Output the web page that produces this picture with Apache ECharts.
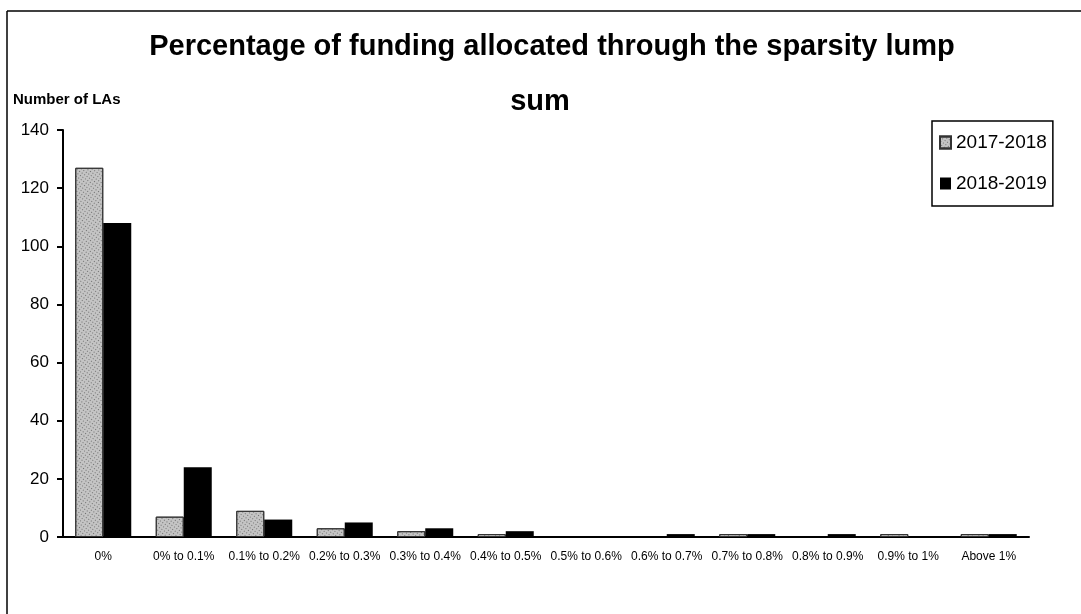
<!DOCTYPE html>
<html>
<head>
<meta charset="utf-8">
<script src="https://cdn.jsdelivr.net/npm/echarts@6/dist/echarts.min.js"></script>
<style>
  html, body { margin: 0; padding: 0; background: #fff; }
  #chart { width: 1081px; height: 614px; }
</style>
</head>
<body>
<div id="chart"></div>
<script>
const categories = ["0%", "0% to 0.1%", "0.1% to 0.2%", "0.2% to 0.3%", "0.3% to 0.4%", "0.4% to 0.5%",
  "0.5% to 0.6%", "0.6% to 0.7%", "0.7% to 0.8%", "0.8% to 0.9%", "0.9% to 1%", "Above 1%"];
const seriesNames = ["2017-2018", "2018-2019"];
const values2017 = [127, 7, 9, 3, 2, 1, 0, 0, 1, 0, 1, 1];
const values2018 = [108, 24, 6, 5, 3, 2, 0, 1, 1, 1, 0, 1];
const titleLines = ["Percentage of funding allocated through the sparsity lump", "sum"];

const font = "'Liberation Sans', Arial, sans-serif";
const chart = echarts.init(document.querySelector("#chart"));

// empty bins are not drawn at all in the original
const nonZero = arr => arr.map(v => (v === 0 ? null : v));

const stipple = {
  symbol: "rect",
  symbolSize: 1,
  color: "rgba(40,40,40,0.55)",
  dashArrayX: [1, 2],
  dashArrayY: [1, 2],
  rotation: 0.6
};

chart.setOption({
  animation: false,
  backgroundColor: "#fff",
  textStyle: { fontFamily: font },
  graphic: [
    { type: "line", shape: { x1: 7, y1: 11, x2: 1081, y2: 11 }, style: { stroke: "#000", lineWidth: 1.5 } },
    { type: "line", shape: { x1: 7, y1: 11, x2: 7, y2: 614 }, style: { stroke: "#000", lineWidth: 1.5 } },
    { type: "text", x: 552, y: 32, style: { text: titleLines[0], font: `bold 29px ${font}`, fill: "#000", align: "center" } },
    { type: "text", x: 540, y: 87, style: { text: titleLines[1], font: `bold 29px ${font}`, fill: "#000", align: "center" } },
    { type: "text", x: 13, y: 92, style: { text: "Number of LAs", font: `bold 15px ${font}`, fill: "#000" } }
  ],
  legend: {
    orient: "vertical",
    left: 932,
    top: 121,
    padding: [12, 6, 13, 7],
    itemGap: 22,
    itemWidth: 11,
    itemHeight: 12,
    icon: "rect",
    borderColor: "#000",
    borderWidth: 1.5,
    textStyle: { fontSize: 19, color: "#000", fontFamily: font },
    data: seriesNames
  },
  grid: { left: 63, right: 52, top: 130, bottom: 77, containLabel: false },
  xAxis: {
    type: "category",
    data: categories,
    axisLine: { lineStyle: { color: "#000", width: 2 } },
    axisTick: { lineStyle: { color: "#000", width: 2 }, length: 6 },
    axisLabel: { interval: 0, fontSize: 12, color: "#000", margin: 14, fontFamily: font }
  },
  yAxis: {
    type: "value",
    min: 0,
    max: 140,
    interval: 20,
    splitLine: { show: false },
    axisLine: { show: true, lineStyle: { color: "#000", width: 2 } },
    axisTick: { show: true, lineStyle: { color: "#000", width: 2 }, length: 6 },
    axisLabel: { fontSize: 17, color: "#000", margin: 14, fontFamily: font }
  },
  series: [
    {
      name: seriesNames[0],
      type: "bar",
      data: nonZero(values2017),
      barWidth: 28,
      barGap: "0%",
      itemStyle: { color: "#c4c4c4", borderColor: "#333", borderWidth: 1, decal: stipple }
    },
    {
      name: seriesNames[1],
      type: "bar",
      data: nonZero(values2018),
      barWidth: 28,
      itemStyle: { color: "#000" }
    }
  ]
});
</script>
</body>
</html>
